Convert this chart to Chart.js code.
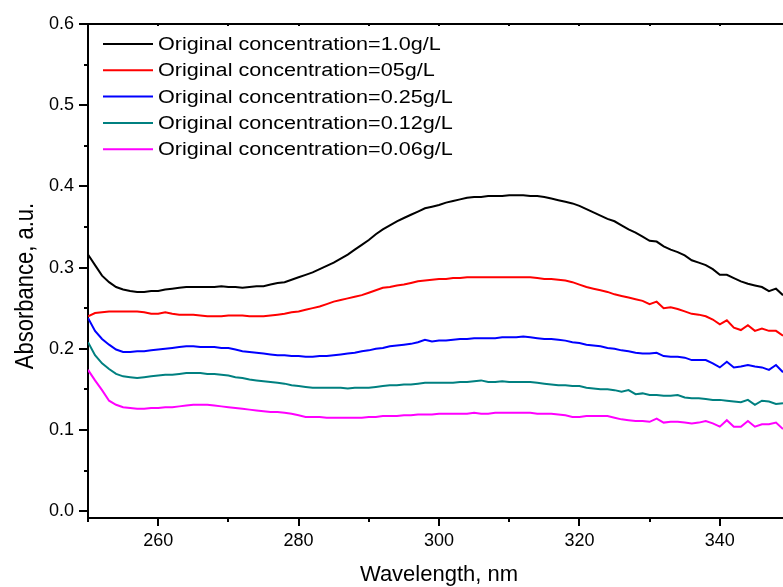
<!DOCTYPE html>
<html lang="en">

<head>
	<meta charset="UTF-8">
	<title>Absorbance spectra</title>
	<style>
		html, body { margin: 0; padding: 0; background: #fff; }
		canvas { display: block; }
	</style>
</head>

<body>
	<canvas id="spectra" width="783" height="587"></canvas>

	<script src="https://cdn.jsdelivr.net/npm/chart.js"></script>
	<script>
		// wavelength grid, nm (1 nm step)
		const wavelength = Array.from({ length: 101 }, (_, i) => 250 + i);

		const labels = [
			'Original concentration=1.0g/L',
			'Original concentration=05g/L',
			'Original concentration=0.25g/L',
			'Original concentration=0.12g/L',
			'Original concentration=0.06g/L'
		];
		const colors = ['#000000', '#ff0000', '#0000ff', '#008080', '#ff00ff'];

		const abs10 = [
			0.316, 0.303, 0.290, 0.282, 0.276, 0.273, 0.271, 0.270, 0.270, 0.271,
			0.271, 0.273, 0.274, 0.275, 0.276, 0.276, 0.276, 0.276, 0.276, 0.277,
			0.276, 0.276, 0.275, 0.276, 0.277, 0.277, 0.279, 0.281, 0.282, 0.285,
			0.288, 0.291, 0.294, 0.298, 0.302, 0.306, 0.311, 0.316, 0.322, 0.328,
			0.334, 0.341, 0.347, 0.352, 0.357, 0.361, 0.365, 0.369, 0.373, 0.375,
			0.377, 0.380, 0.382, 0.384, 0.386, 0.387, 0.387, 0.388, 0.388, 0.388,
			0.389, 0.389, 0.389, 0.388, 0.388, 0.387, 0.385, 0.383, 0.381, 0.379,
			0.376, 0.372, 0.368, 0.364, 0.360, 0.357, 0.352, 0.347, 0.343, 0.338,
			0.333, 0.332, 0.326, 0.322, 0.319, 0.315, 0.309, 0.306, 0.303, 0.298,
			0.291, 0.291, 0.287, 0.283, 0.280, 0.278, 0.276, 0.271, 0.274, 0.266,
			0.262
		];
		const abs05 = [
			0.240, 0.244, 0.245, 0.246, 0.246, 0.246, 0.246, 0.246, 0.245, 0.243,
			0.243, 0.245, 0.243, 0.242, 0.242, 0.242, 0.241, 0.240, 0.240, 0.240,
			0.241, 0.241, 0.241, 0.240, 0.240, 0.240, 0.241, 0.242, 0.243, 0.245,
			0.246, 0.248, 0.250, 0.252, 0.255, 0.258, 0.260, 0.262, 0.264, 0.266,
			0.269, 0.272, 0.275, 0.276, 0.278, 0.279, 0.281, 0.283, 0.284, 0.285,
			0.286, 0.286, 0.287, 0.287, 0.288, 0.288, 0.288, 0.288, 0.288, 0.288,
			0.288, 0.288, 0.288, 0.288, 0.287, 0.286, 0.286, 0.285, 0.284, 0.282,
			0.279, 0.276, 0.274, 0.272, 0.270, 0.267, 0.265, 0.263, 0.261, 0.259,
			0.255, 0.258, 0.250, 0.251, 0.249, 0.246, 0.243, 0.242, 0.240, 0.236,
			0.230, 0.235, 0.226, 0.223, 0.229, 0.222, 0.225, 0.222, 0.222, 0.216,
			0.212
		];
		const abs025 = [
			0.238, 0.222, 0.212, 0.205, 0.199, 0.196, 0.196, 0.197, 0.197, 0.198,
			0.199, 0.200, 0.201, 0.202, 0.203, 0.203, 0.202, 0.202, 0.202, 0.201,
			0.201, 0.199, 0.197, 0.196, 0.195, 0.194, 0.193, 0.192, 0.192, 0.191,
			0.191, 0.190, 0.190, 0.191, 0.191, 0.192, 0.193, 0.194, 0.195, 0.197,
			0.198, 0.200, 0.201, 0.203, 0.204, 0.205, 0.206, 0.208, 0.211, 0.209,
			0.210, 0.210, 0.211, 0.212, 0.212, 0.213, 0.213, 0.213, 0.213, 0.214,
			0.214, 0.214, 0.215, 0.214, 0.213, 0.212, 0.212, 0.211, 0.210, 0.208,
			0.207, 0.205, 0.204, 0.203, 0.201, 0.200, 0.198, 0.197, 0.195, 0.194,
			0.194, 0.195, 0.191, 0.190, 0.190, 0.189, 0.186, 0.186, 0.186, 0.182,
			0.177, 0.184, 0.177, 0.178, 0.180, 0.178, 0.177, 0.174, 0.180, 0.171,
			0.168
		];
		const abs012 = [
			0.208, 0.192, 0.182, 0.175, 0.169, 0.166, 0.165, 0.164, 0.165, 0.166,
			0.167, 0.168, 0.168, 0.169, 0.170, 0.170, 0.170, 0.169, 0.169, 0.168,
			0.167, 0.165, 0.164, 0.162, 0.161, 0.160, 0.159, 0.158, 0.157, 0.155,
			0.154, 0.153, 0.152, 0.152, 0.152, 0.152, 0.152, 0.151, 0.152, 0.152,
			0.152, 0.153, 0.154, 0.155, 0.155, 0.156, 0.156, 0.157, 0.158, 0.158,
			0.158, 0.158, 0.158, 0.159, 0.159, 0.160, 0.161, 0.159, 0.159, 0.160,
			0.159, 0.159, 0.159, 0.159, 0.158, 0.157, 0.156, 0.155, 0.155, 0.154,
			0.154, 0.152, 0.151, 0.150, 0.150, 0.149, 0.147, 0.149, 0.144, 0.145,
			0.143, 0.143, 0.142, 0.142, 0.143, 0.140, 0.139, 0.139, 0.138, 0.137,
			0.137, 0.136, 0.135, 0.134, 0.137, 0.131, 0.136, 0.135, 0.132, 0.133,
			0.131
		];
		const abs006 = [
			0.174, 0.161, 0.149, 0.136, 0.131, 0.128, 0.127, 0.126, 0.126, 0.127,
			0.127, 0.128, 0.128, 0.129, 0.130, 0.131, 0.131, 0.131, 0.130, 0.129,
			0.128, 0.127, 0.126, 0.125, 0.124, 0.123, 0.122, 0.122, 0.121, 0.120,
			0.118, 0.116, 0.116, 0.116, 0.115, 0.115, 0.115, 0.115, 0.115, 0.115,
			0.116, 0.116, 0.117, 0.117, 0.117, 0.118, 0.118, 0.119, 0.119, 0.119,
			0.120, 0.120, 0.120, 0.120, 0.120, 0.121, 0.120, 0.120, 0.121, 0.121,
			0.121, 0.121, 0.121, 0.121, 0.120, 0.120, 0.120, 0.119, 0.118, 0.116,
			0.116, 0.117, 0.117, 0.117, 0.117, 0.115, 0.113, 0.112, 0.111, 0.111,
			0.110, 0.114, 0.109, 0.110, 0.110, 0.109, 0.108, 0.109, 0.111, 0.108,
			0.104, 0.112, 0.104, 0.104, 0.111, 0.104, 0.107, 0.107, 0.109, 0.101,
			0.099
		];
		const series = [abs10, abs05, abs025, abs012, abs006];

		// axis ticks
		const xMajor = [260, 280, 300, 320, 340];
		const xMinor = [250, 270, 290, 310, 330];
		const yMajor = [0.0, 0.1, 0.2, 0.3, 0.4, 0.5, 0.6];
		const yMinor = [0.05, 0.15, 0.25, 0.35, 0.45, 0.55];

		const xTitle = 'Wavelength, nm';
		const yTitle = 'Absorbance, a.u.';

		const FONT = '"Liberation Sans", Arial, sans-serif';

		// axis frame: top edge and the tick marks (Origin style)
		const frame = {
			id: 'frame',
			afterDraw(chart) {
				const { ctx, chartArea: a, scales: { x, y } } = chart;
				ctx.save();
				ctx.strokeStyle = '#000';
				ctx.lineWidth = 2;
				ctx.beginPath();
				ctx.moveTo(a.left - 1, a.top);
				ctx.lineTo(a.right, a.top);
				xMajor.concat(xMinor).forEach(v => {
					const px = Math.round(x.getPixelForValue(v));
					const len = xMajor.includes(v) ? 8 : 4;
					ctx.moveTo(px, a.bottom);
					ctx.lineTo(px, a.bottom + len);
					ctx.moveTo(px, a.top);
					ctx.lineTo(px, a.top + 2);
				});
				yMajor.concat(yMinor).forEach(v => {
					const py = Math.round(y.getPixelForValue(v));
					const len = yMajor.includes(v) ? 9 : 4;
					ctx.moveTo(a.left, py);
					ctx.lineTo(a.left - len, py);
				});
				ctx.stroke();
				ctx.restore();
			}
		};

		// legend box in the top left corner of the plot, with line swatches
		const lineLegend = {
			id: 'lineLegend',
			afterDraw(chart) {
				const { ctx, chartArea: a } = chart;
				ctx.save();
				ctx.font = '18px ' + FONT;
				ctx.textBaseline = 'middle';
				ctx.fillStyle = '#000';
				chart.data.datasets.forEach((ds, i) => {
					const ly = a.top + 20 + i * 26.3;
					ctx.strokeStyle = ds.borderColor;
					ctx.lineWidth = 2;
					ctx.beginPath();
					ctx.moveTo(a.left + 15, ly);
					ctx.lineTo(a.left + 65, ly);
					ctx.stroke();
					ctx.save();
					ctx.translate(a.left + 70, ly + 1);
					ctx.scale(1.2, 1);
					ctx.fillText(ds.label, 0, 0);
					ctx.restore();
				});
				ctx.restore();
			}
		};

		// axis titles
		const axisTitles = {
			id: 'axisTitles',
			afterDraw(chart) {
				const { ctx, chartArea: a, scales: { x } } = chart;
				ctx.save();
				ctx.fillStyle = '#000';
				ctx.font = '22px ' + FONT;
				ctx.textAlign = 'center';
				ctx.textBaseline = 'alphabetic';
				const cx = (x.getPixelForValue(250) + x.getPixelForValue(350)) / 2;
				ctx.fillText(xTitle, cx, a.bottom + 63);

				ctx.translate(32.5, (a.top + a.bottom) / 2 + 15);
				ctx.rotate(-Math.PI / 2);
				ctx.scale(1, 1.2);
				ctx.fillText(yTitle, 0, 0);
				ctx.restore();
			}
		};

		const data = {
			datasets: series.map((vals, i) => ({
				label: labels[i],
				data: wavelength.map((w, j) => ({ x: w, y: vals[j] })),
				borderColor: colors[i],
				backgroundColor: colors[i],
				borderWidth: 2,
				pointRadius: 0,
				tension: 0,
				fill: false
			}))
		};

		const config = {
			type: 'line',
			data: data,
			plugins: [frame, lineLegend, axisTitles],
			options: {
				responsive: false,
				animation: false,
				events: [],
				layout: { padding: { top: 24, right: 0, bottom: 0, left: 0 } },
				plugins: {
					legend: { display: false },
					tooltip: { enabled: false }
				},
				scales: {
					x: {
						type: 'linear',
						min: 250,
						max: 349,
						afterFit: scale => { scale.height = 69; },
						afterBuildTicks: scale => { scale.ticks = xMajor.map(v => ({ value: v })); },
						grid: { display: false, drawTicks: true, tickLength: 8 },
						border: { display: true, color: '#000', width: 2 },
						ticks: {
							color: '#000',
							font: { family: FONT, size: 18 },
							padding: 4,
							maxRotation: 0,
							autoSkip: false,
							callback: v => String(v)
						}
					},
					y: {
						type: 'linear',
						min: -0.0085,
						max: 0.6,
						afterFit: scale => { scale.width = 88; },
						afterBuildTicks: scale => { scale.ticks = yMajor.map(v => ({ value: v })); },
						grid: { display: false, drawTicks: true, tickLength: 9 },
						border: { display: true, color: '#000', width: 2 },
						ticks: {
							color: '#000',
							font: { family: FONT, size: 18 },
							padding: 5,
							autoSkip: false,
							callback: v => v.toFixed(1)
						}
					}
				}
			}
		};

		const spectraChart = new Chart(document.getElementById('spectra'), config);
	</script>
</body>

</html>
